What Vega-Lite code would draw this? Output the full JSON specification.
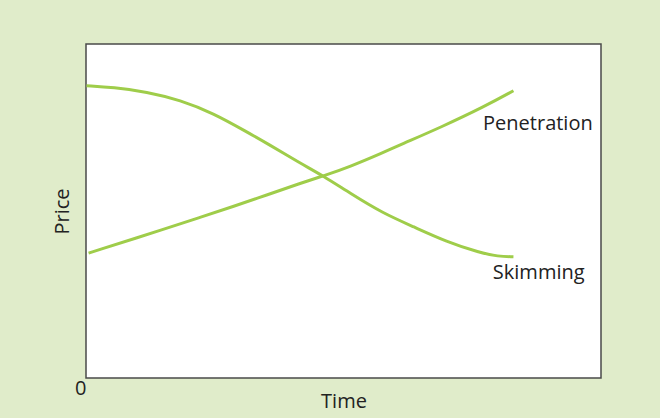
{
  "$schema": "https://vega.github.io/schema/vega-lite/v6.json",
  "width": 515,
  "height": 334,
  "autosize": {"type": "none"},
  "padding": {"left": 86, "top": 44, "right": 59, "bottom": 40},
  "background": "#e0ecca",
  "config": {
    "view": {"fill": "white", "stroke": "#4a4a4a", "strokeWidth": 1.5},
    "font": "Open Sans",
    "axis": {"grid": false, "domain": false, "ticks": false}
  },
  "datasets": {
    "curves": [
      {"series": "Skimming", "t": 0.1, "price": 87.5},
      {"series": "Skimming", "t": 5.3, "price": 87.0},
      {"series": "Skimming", "t": 11.8, "price": 85.7},
      {"series": "Skimming", "t": 18.3, "price": 83.2},
      {"series": "Skimming", "t": 24.7, "price": 79.3},
      {"series": "Skimming", "t": 31.2, "price": 73.7},
      {"series": "Skimming", "t": 35.1, "price": 70.3},
      {"series": "Skimming", "t": 41.6, "price": 64.3},
      {"series": "Skimming", "t": 46.1, "price": 60.5},
      {"series": "Skimming", "t": 51.3, "price": 55.3},
      {"series": "Skimming", "t": 57.7, "price": 49.3},
      {"series": "Skimming", "t": 63.6, "price": 45.3},
      {"series": "Skimming", "t": 70.0, "price": 40.8},
      {"series": "Skimming", "t": 76.5, "price": 37.5},
      {"series": "Skimming", "t": 80.0, "price": 36.4},
      {"series": "Skimming", "t": 83.0, "price": 36.3},
      {"series": "Penetration", "t": 0.5, "price": 37.4},
      {"series": "Penetration", "t": 15.9, "price": 44.9},
      {"series": "Penetration", "t": 22.1, "price": 48.1},
      {"series": "Penetration", "t": 28.5, "price": 51.3},
      {"series": "Penetration", "t": 35.1, "price": 54.8},
      {"series": "Penetration", "t": 41.6, "price": 58.3},
      {"series": "Penetration", "t": 46.1, "price": 60.5},
      {"series": "Penetration", "t": 51.3, "price": 63.3},
      {"series": "Penetration", "t": 57.7, "price": 67.5},
      {"series": "Penetration", "t": 61.0, "price": 69.8},
      {"series": "Penetration", "t": 69.1, "price": 75.2},
      {"series": "Penetration", "t": 77.3, "price": 81.2},
      {"series": "Penetration", "t": 83.0, "price": 86.0}
    ],
    "labels": [
      {"label": "Penetration", "t": 77.1, "price": 74.3},
      {"label": "Skimming", "t": 79.0, "price": 29.6}
    ]
  },
  "layer": [
    {
      "data": {"name": "curves"},
      "mark": {"type": "line", "interpolate": "basis", "color": "#9fcd4a", "strokeWidth": 3},
      "encoding": {
        "x": {"field": "t", "type": "quantitative", "scale": {"domain": [0, 100], "nice": false},
          "axis": {"title": "Time", "values": [0], "labelAlign": "right", "labelDx": -3, "labelDy": -1, "labelPadding": 0, "labelFontSize": 20, "labelColor": "#222", "titleFontSize": 20, "titleFontWeight": "normal", "titleColor": "#222", "titlePadding": -7}},
        "y": {"field": "price", "type": "quantitative", "scale": {"domain": [0, 100], "nice": false},
          "axis": {"title": "Price", "labels": false, "titleFontSize": 20, "titleFontWeight": "normal", "titleColor": "#222", "titlePadding": 14}},
        "detail": {"field": "series"}
      }
    },
    {
      "data": {"name": "labels"},
      "mark": {"type": "text", "align": "left", "baseline": "alphabetic", "fontSize": 20, "color": "#222"},
      "encoding": {
        "x": {"field": "t", "type": "quantitative"},
        "y": {"field": "price", "type": "quantitative"},
        "text": {"field": "label"}
      }
    }
  ]
}
